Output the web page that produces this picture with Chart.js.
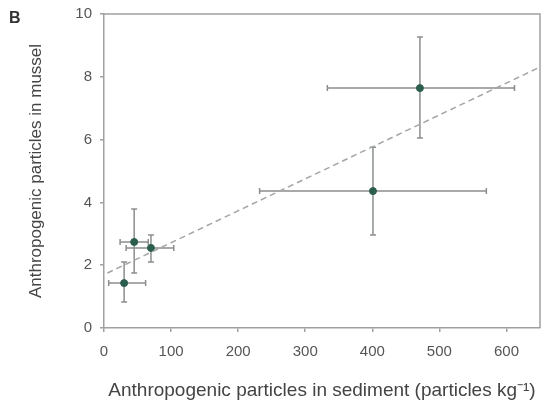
<!DOCTYPE html>
<html>
<head>
<meta charset="utf-8">
<script src="https://cdn.jsdelivr.net/npm/chart.js@4.4.1/dist/chart.umd.min.js"></script>
<style>
  html, body { margin: 0; padding: 0; background: #fff; }
  #wrap { width: 547px; height: 402px; position: relative; }
</style>
</head>
<body>
<div id="wrap"><canvas id="c" width="547" height="402"></canvas></div>
<script>
  // sediment (x) vs mussel (y) means with error ranges
  var sedMean = [45, 70, 30, 471, 401];
  var sedLow = [24, 33, 7, 333, 232];
  var sedHigh = [66, 104, 62, 612, 570];
  var musMean = [2.74, 2.55, 1.43, 7.64, 4.36];
  var musLow = [1.75, 2.1, 0.83, 6.05, 2.96];
  var musHigh = [3.79, 2.96, 2.1, 9.27, 5.76];

  // dashed regression line end points
  var fitX = [5, 650];
  var fitY = [1.75, 8.31];

  var xTicks = [0, 100, 200, 300, 400, 500, 600];
  var yTicks = [0, 2, 4, 6, 8, 10];

  var FONT = '"Liberation Sans", Arial, sans-serif';

  var points = sedMean.map(function (x, i) { return { x: x, y: musMean[i] }; });
  var fit = fitX.map(function (x, i) { return { x: x, y: fitY[i] }; });

  /** Draws the x/y error bars, the box frame and the panel letter */
  var extras = {
    id: 'extras',
    beforeDatasetsDraw: function (chart) {
      var c = chart.ctx, xs = chart.scales.x, ys = chart.scales.y, cap = 3;
      c.save();
      c.strokeStyle = '#8a8f8c';
      c.lineWidth = 1.5;
      sedMean.forEach(function (x, i) {
        var px = xs.getPixelForValue(x), py = ys.getPixelForValue(musMean[i]);
        var x0 = xs.getPixelForValue(sedLow[i]), x1 = xs.getPixelForValue(sedHigh[i]);
        var y0 = ys.getPixelForValue(musLow[i]), y1 = ys.getPixelForValue(musHigh[i]);
        c.beginPath();
        c.moveTo(x0, py); c.lineTo(x1, py);
        c.moveTo(x0, py - cap); c.lineTo(x0, py + cap);
        c.moveTo(x1, py - cap); c.lineTo(x1, py + cap);
        c.moveTo(px, y0); c.lineTo(px, y1);
        c.moveTo(px - cap, y0); c.lineTo(px + cap, y0);
        c.moveTo(px - cap, y1); c.lineTo(px + cap, y1);
        c.stroke();
      });
      c.restore();
    },
    afterDraw: function (chart) {
      var c = chart.ctx, a = chart.chartArea;
      c.save();
      c.strokeStyle = '#a0a0a0';
      c.lineWidth = 1.5;
      c.beginPath();
      c.moveTo(a.left, a.top); c.lineTo(a.right, a.top); c.lineTo(a.right, a.bottom);
      c.stroke();
      c.fillStyle = '#333';
      c.font = 'bold 16px ' + FONT;
      c.fillText('B', 9, 23);
      c.restore();
    }
  };

  new Chart(document.getElementById('c'), {
    type: 'scatter',
    data: {
      datasets: [{
        type: 'line',
        data: fit,
        borderColor: '#a3a6a4',
        borderWidth: 1.5,
        borderDash: [6, 4],
        pointRadius: 0,
        fill: false
      }, {
        data: points,
        backgroundColor: '#2b5e4e',
        borderColor: '#2b5e4e',
        pointRadius: 3.5
      }]
    },
    options: {
      responsive: false,
      animation: false,
      layout: { padding: { top: 14, right: 7, left: 26, bottom: 0 } },
      plugins: { legend: { display: false }, tooltip: { enabled: false } },
      scales: {
        x: {
          type: 'linear', min: 0, max: 650,
          afterBuildTicks: function (s) { s.ticks = xTicks.map(function (v) { return { value: v }; }); },
          afterFit: function (s) { s.height = 74; },
          grid: { drawOnChartArea: false, drawTicks: true, tickLength: 4, color: '#a0a0a0', lineWidth: 1.5 },
          border: { color: '#a0a0a0', width: 1.5 },
          ticks: { color: '#555', font: { family: FONT, size: 15 }, padding: 11 },
          title: {
            display: true,
            text: 'Anthropogenic particles in sediment (particles kg\u207B\u00B9)',
            color: '#444', font: { family: FONT, size: 19 }, padding: { top: 0, bottom: 0 }
          }
        },
        y: {
          type: 'linear', min: 0, max: 10,
          afterBuildTicks: function (s) { s.ticks = yTicks.map(function (v) { return { value: v }; }); },
          afterFit: function (s) { s.width = 78; s.paddingTop = 0; },
          grid: { drawOnChartArea: false, drawTicks: true, tickLength: 4, color: '#a0a0a0', lineWidth: 1.5 },
          border: { color: '#a0a0a0', width: 1.5 },
          ticks: { color: '#555', font: { family: FONT, size: 15 }, padding: 8 },
          title: {
            display: true,
            text: 'Anthropogenic particles in mussel',
            color: '#444', font: { family: FONT, size: 17 }, padding: { top: 0, bottom: 0 }
          }
        }
      }
    },
    plugins: [extras]
  });
</script>
</body>
</html>
